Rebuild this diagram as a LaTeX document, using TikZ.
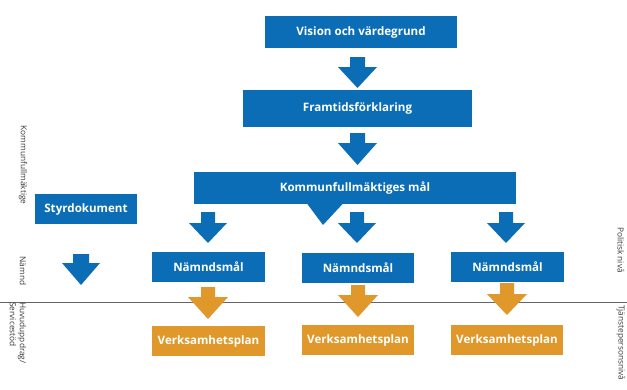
\documentclass[tikz,border=0pt]{standalone}
\usepackage{fontspec}
\setmainfont{Open Sans}
\newfontfamily\sidefont{Open Sans}
\definecolor{kblue}{HTML}{0A6DB5}
\definecolor{korange}{HTML}{E0982A}
\definecolor{sidegray}{HTML}{3A3A3A}
\newcommand{\BArrow}[7]{% color, center x, top y, head y, tip y, shaft half, head half
  \fill[#1] ({#2-#6},#3) -- ({#2+#6},#3) -- ({#2+#6},#4) -- ({#2+#7},#4) -- (#2,#5)
     -- ({#2-#7},#4) -- ({#2-#6},#4) -- cycle;}
\begin{document}
\begin{tikzpicture}[x=1pt,y=-1pt,
  bbox/.style={fill=kblue,text=white,font=\bfseries\fontsize{11.6}{13}\selectfont,inner sep=0pt},
  obox/.style={fill=korange,text=white,font=\bfseries\fontsize{11.6}{13}\selectfont,inner sep=0pt},
  side/.style={text=sidegray,font=\sidefont\fontsize{8.3}{10}\selectfont,rotate=-90,inner sep=0pt}]
\useasboundingbox (0,0) rectangle (627,389);
% boxes
\node[bbox,minimum width=192pt,minimum height=32pt] (vis) at (361,32) {Vision och värdegrund};
\node[bbox,minimum width=229pt,minimum height=37pt] (fram) at (357.5,108.5) {Framtidsförklaring};
\node[bbox,minimum width=322pt,minimum height=32pt] (kf) at (355,188) {Kommunfullmäktiges mål};
\fill[kblue] (307,203.5) -- (343,203.5) -- (323,225) -- cycle;
\node[bbox,minimum width=102pt,minimum height=30pt] (styr) at (86,209) {Styrdokument};
\node[bbox,minimum width=113pt,minimum height=30pt] (n1) at (208.5,267) {Nämndsmål};
\node[bbox,minimum width=112pt,minimum height=30pt] (n2) at (358,268) {Nämndsmål};
\node[bbox,minimum width=113pt,minimum height=30pt] (n3) at (507.5,267) {Nämndsmål};
\node[obox,minimum width=113pt,minimum height=30pt] (v1) at (208.5,341) {Verksamhetsplan};
\node[obox,minimum width=112pt,minimum height=30pt] (v2) at (358,340) {Verksamhetsplan};
\node[obox,minimum width=112pt,minimum height=30pt] (v3) at (507,340) {Verksamhetsplan};
% line
\draw[line width=1pt,color=black!60] (0,302) -- (627,302);
% arrows
\BArrow{kblue}{357.5}{57}{67}{88}{7.5}{19.5}
\BArrow{kblue}{357.5}{133}{143}{165}{7.5}{19.5}
\BArrow{kblue}{208}{212}{223}{243}{7}{19}
\BArrow{kblue}{357}{212}{223}{243}{7}{19}
\BArrow{kblue}{506}{212}{223}{243}{7}{19}
\BArrow{kblue}{81}{254}{263}{285}{8}{19}
\BArrow{korange}{208}{287}{297}{319}{7}{20}
\BArrow{korange}{358}{285}{295}{317}{7}{20}
\BArrow{korange}{507}{283}{294}{315}{7}{20}
% side labels
\node[side] (skf) at (23,165) {Kommunfullmäktige};
\node[side] (snm) at (23,271) {Nämnd};
\node[side,anchor=west,align=left] (shu) at (18,302) {Huvuduppdrag/\\Servicestöd};
\node[side] (spol) at (621,250) {Politisk nivå};
\node[side,anchor=west] (stj) at (621,305) {Tjänstepersonsnivå};
\end{tikzpicture}
\end{document}
